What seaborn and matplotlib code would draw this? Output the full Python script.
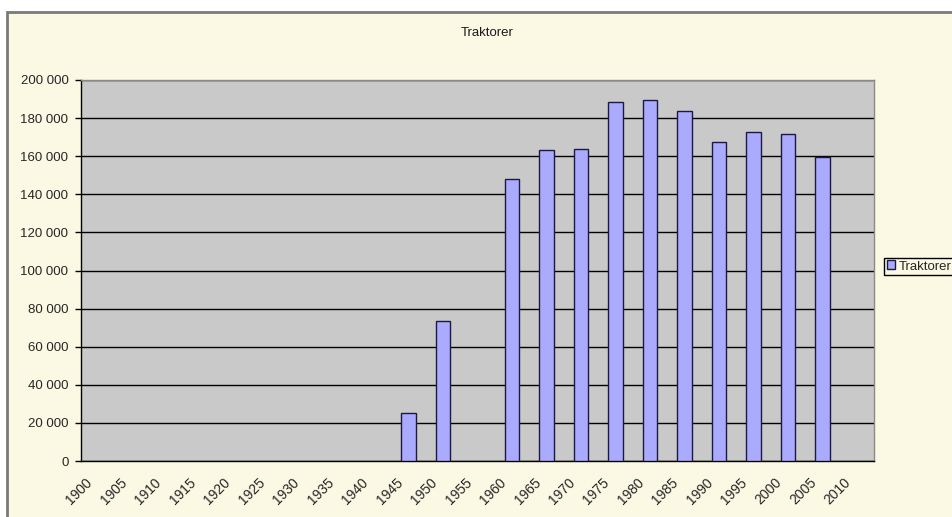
import matplotlib
matplotlib.use("Agg")
import matplotlib.pyplot as plt
import matplotlib.patches as mpatches
import matplotlib.transforms as mtransforms
import seaborn as sns
import pandas as pd
from matplotlib.ticker import FuncFormatter

# category axis: every fifth year 1900-2010
categories = [str(y) for y in range(1900, 2015, 5)]
bar_years = ["1945", "1950", "1960", "1965", "1970", "1975", "1980",
             "1985", "1990", "1995", "2000", "2005"]
tractors = [25000, 73500, 148000, 163400, 164000, 188500, 189700,
            183900, 167500, 172700, 171500, 159700]
series_name = "Traktorer"

df = pd.DataFrame({"year": bar_years, "count": tractors})

sns.set_style("white")
plt.rcParams["font.family"] = ["Liberation Sans", "DejaVu Sans"]

cream = "#FBF9E4"
plot_gray = "#C9C9C9"
bar_color = "#AAAAFF"

fig = plt.figure(figsize=(9.53, 5.17), dpi=100, facecolor="white")

# chart area frame (runs off the right and bottom edges)
frame = mpatches.Rectangle((7 / 953, -0.1), 1.2, 1 - 12 / 517 + 0.1,
                           transform=fig.transFigure, facecolor=cream,
                           edgecolor="#7A7A7A", linewidth=2, zorder=-10)
fig.add_artist(frame)

ax = fig.add_axes([81 / 953, 1 - 461 / 517, (874 - 81) / 953, (461 - 80) / 517])
ax.set_facecolor(plot_gray)

sns.barplot(data=df, x="year", y="count", order=categories, color=bar_color,
            saturation=1, width=0.42, edgecolor="#1A1A40", linewidth=1,
            ax=ax, zorder=3)

ax.set_xlim(-0.5, len(categories) - 0.5)
ax.set_ylim(0, 200000)
ax.set_yticks(range(0, 200001, 20000))
ax.yaxis.set_major_formatter(FuncFormatter(lambda v, p: f"{int(v):,}".replace(",", " ")))
ax.grid(axis="y", color="black", linewidth=1, zorder=1)
ax.set_axisbelow(True)
ax.set_xlabel("")
ax.set_ylabel("")

# labels at category centres, tick marks between categories
ax.set_xticks(range(len(categories)))
ax.set_xticklabels(categories, rotation=45, ha="right", va="center",
                   rotation_mode="anchor", fontsize=10)
ax.set_xticks([i - 0.5 for i in range(len(categories) + 1)], minor=True)
ax.tick_params(axis="x", which="major", length=0, pad=14)
ax.tick_params(axis="x", which="minor", length=4, direction="out",
               color="black", width=1)
shift = mtransforms.ScaledTranslation(-8 / 100, 0, fig.dpi_scale_trans)
for lbl in ax.get_xticklabels():
    lbl.set_transform(lbl.get_transform() + shift)

ax.tick_params(axis="y", which="major", length=4, direction="out",
               color="black", width=1, labelsize=9.5, pad=5, left=True)

for side in ["left", "bottom"]:
    ax.spines[side].set_color("black")
    ax.spines[side].set_linewidth(1)
for side in ["top", "right"]:
    ax.spines[side].set_color("#8A8A8A")
    ax.spines[side].set_linewidth(1)

fig.text(487 / 953, 1 - 33 / 517, "Traktorer", ha="center", va="center",
         fontsize=9.5, color="#1A1A1A")

handle = mpatches.Patch(facecolor=bar_color, edgecolor="#1A1A40", linewidth=1,
                        label=series_name)
leg = fig.legend(handles=[handle], loc="center left",
                 bbox_to_anchor=(884 / 953, 1 - 266.5 / 517),
                 bbox_transform=fig.transFigure, fontsize=9.5,
                 frameon=True, fancybox=False, framealpha=1,
                 facecolor=cream, edgecolor="black", borderpad=0.2,
                 handlelength=0.65, handleheight=0.65, handletextpad=0.25,
                 borderaxespad=0)
leg.get_frame().set_linewidth(1)

fig.savefig("out.png", dpi=100, facecolor="white")
